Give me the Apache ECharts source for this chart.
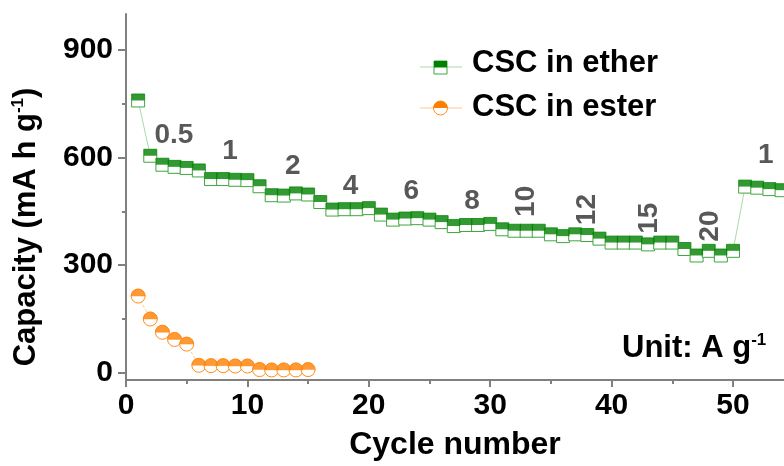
<!DOCTYPE html>
<html>
<head>
<meta charset="utf-8">
<script src="https://cdn.jsdelivr.net/npm/echarts@6/dist/echarts.min.js"></script>
<style>
  html, body { margin: 0; padding: 0; background: #ffffff; }
  #chart { width: 784px; height: 466px; }
</style>
</head>
<body>
<div id="chart"></div>
<script>
// Rate capability: capacity vs cycle number
const cyclesEther = [1,2,3,4,5,6,7,8,9,10,11,12,13,14,15,16,17,18,19,20,21,22,23,24,25,26,27,28,29,30,31,32,33,34,35,36,37,38,39,40,41,42,43,44,45,46,47,48,49,50,51,52,53,54];
const capacityEther = [759,605,580,574,571,564,540,540,538,537,520,495,494,500,497,476,455,456,456,459,441,427,430,431,427,420,409,412,412,415,400,396,396,396,386,381,386,384,374,363,363,363,358,363,363,345,327,340,327,340,519,516,512,509];
const cyclesEster = [1,2,3,4,5,6,7,8,9,10,11,12,13,14,15];
const capacityEster = [214,150,113,93,80,21,20,20,19,19,9,8,8,8,9];

const xTicks = [0,10,20,30,40,50];
const xMinorTicks = [5,15,25,35,45];
const yTicks = [0,300,600,900];
const yMinorTicks = [150,450,750];

// current-density annotations (A g-1)
const rateLabels = ['0.5','1','2','4','6','8','10','12','15','20','1'];
const rateLabelCycle = [3.95,8.56,13.74,18.5,23.5,28.5,33.0,38.0,43.1,48.1,52.7];
const rateLabelCapacity = [663,618,577,519,505,478,478,455,431,409,605];
const rateLabelVertical = [false,false,false,false,false,false,true,true,true,true,false];

const FONT = '"Liberation Sans", Arial, sans-serif';
const AXIS_GRAY = '#808080';
const GREEN = '#008000';
const GREEN_EDGE = '#3fa63f';
const GREEN_LINE = '#a8dca8';
const ORANGE = '#ff8000';
const ORANGE_EDGE = '#ff8c1a';
const ORANGE_LINE = '#ffc891';

const pairs = (xs, ys) => xs.map((x, i) => [x, ys[i]]);
const etherData = pairs(cyclesEther, capacityEther);
const esterData = pairs(cyclesEster, capacityEster);

const chart = echarts.init(document.getElementById('chart'), null, { renderer: 'canvas' });

const baseXAxis = {
  type: 'value', min: 0, max: 54.2, position: 'bottom',
  splitLine: { show: false }
};
const baseYAxis = {
  type: 'value', min: -20, max: 1000, position: 'left',
  splitLine: { show: false }
};

const option = {
  animation: false,
  backgroundColor: '#ffffff',
  grid: { left: 126, right: 0, top: 14, bottom: 82, containLabel: false },
  xAxis: [
    Object.assign({}, baseXAxis, {
      name: 'Cycle number',
      nameLocation: 'middle',
      nameGap: 49,
      nameTextStyle: { fontFamily: FONT, fontWeight: 'bold', fontSize: 32, color: '#000' },
      axisLine: { show: true, onZero: false, lineStyle: { color: AXIS_GRAY, width: 2 } },
      axisTick: { show: true, inside: false, length: 7, customValues: xTicks, lineStyle: { color: AXIS_GRAY, width: 2 } },
      axisLabel: { show: true, customValues: xTicks, margin: 11, fontFamily: FONT, fontWeight: 'bold', fontSize: 30, color: '#000' }
    }),
    Object.assign({}, baseXAxis, {
      axisLine: { show: false, onZero: false },
      axisTick: { show: true, inside: false, length: 4, customValues: xMinorTicks, lineStyle: { color: AXIS_GRAY, width: 2 } },
      axisLabel: { show: false }
    })
  ],
  yAxis: [
    Object.assign({}, baseYAxis, {
      name: 'Capacity (mA h g{sup|-1})',
      nameLocation: 'middle',
      nameGap: 84,
      nameRotate: 90,
      nameTextStyle: {
        fontFamily: FONT, fontWeight: 'bold', fontSize: 31, color: '#000',
        padding: [0, 0, 0, -60],
        rich: { sup: { fontFamily: FONT, fontWeight: 'bold', fontSize: 17, color: '#000', verticalAlign: 'top', padding: [0, 0, 15, 0] } }
      },
      axisLine: { show: true, onZero: false, lineStyle: { color: AXIS_GRAY, width: 2 } },
      axisTick: { show: true, inside: false, length: 8, customValues: yTicks, lineStyle: { color: AXIS_GRAY, width: 2 } },
      axisLabel: { show: true, customValues: yTicks, margin: 13, fontFamily: FONT, fontWeight: 'bold', fontSize: 30, color: '#000' }
    }),
    Object.assign({}, baseYAxis, {
      axisLine: { show: false, onZero: false },
      axisTick: { show: true, inside: false, length: 4, customValues: yMinorTicks, lineStyle: { color: AXIS_GRAY, width: 2 } },
      axisLabel: { show: false }
    })
  ],
  series: [
    {
      name: 'CSC in ester',
      type: 'line',
      data: esterData,
      showAllSymbol: true,
      symbol: 'circle',
      symbolSize: 14,
      lineStyle: { color: ORANGE_LINE, width: 1, type: [3, 2] },
      itemStyle: { color: '#ffffff', borderColor: ORANGE_EDGE, borderWidth: 1 },
      z: 2
    },
    {
      name: 'CSC in ester (fill)',
      type: 'scatter',
      data: esterData,
      symbol: 'path://M0,10A10,10 0 0 1 20,10Z',
      symbolSize: [14, 7],
      symbolOffset: [0, -3.5],
      itemStyle: { color: ORANGE, borderColor: ORANGE_EDGE, borderWidth: 0.5 },
      z: 3
    },
    {
      name: 'CSC in ether',
      type: 'line',
      data: etherData,
      showAllSymbol: true,
      symbol: 'rect',
      symbolSize: 13,
      lineStyle: { color: GREEN_LINE, width: 1 },
      itemStyle: { color: '#ffffff', borderColor: GREEN_EDGE, borderWidth: 1 },
      z: 2
    },
    {
      name: 'CSC in ether (fill)',
      type: 'scatter',
      data: etherData,
      symbol: 'rect',
      symbolSize: [13, 6.5],
      symbolOffset: [0, -3.25],
      itemStyle: { color: GREEN },
      z: 3
    },
    {
      name: 'rates',
      type: 'scatter',
      symbolSize: 0,
      silent: true,
      data: rateLabels.map((t, i) => ({
        name: t,
        value: [rateLabelCycle[i], rateLabelCapacity[i]],
        label: { rotate: rateLabelVertical[i] ? 90 : 0 }
      })),
      label: {
        show: true, position: 'inside', formatter: '{b}',
        fontFamily: FONT, fontWeight: 'bold', fontSize: 28, color: '#2e2e2e'
      },
      z: 4
    }
  ],
  graphic: [
    // legend: CSC in ether
    { type: 'line', shape: { x1: 420, y1: 67, x2: 462, y2: 67 }, style: { stroke: GREEN_LINE, lineWidth: 1 }, z: 10 },
    { type: 'rect', shape: { x: 434, y: 61, width: 13, height: 13 }, style: { fill: '#ffffff', stroke: GREEN_EDGE, lineWidth: 1 }, z: 11 },
    { type: 'rect', shape: { x: 434, y: 61, width: 13, height: 6.5 }, style: { fill: GREEN }, z: 12 },
    { type: 'text', x: 472, y: 63, style: { text: 'CSC in ether', font: 'bold 31px ' + FONT, fill: '#000', verticalAlign: 'middle' }, z: 12 },
    // legend: CSC in ester
    { type: 'line', shape: { x1: 420, y1: 108, x2: 462, y2: 108 }, style: { stroke: ORANGE_LINE, lineWidth: 1 }, z: 10 },
    { type: 'circle', shape: { cx: 440.5, cy: 108, r: 7 }, style: { fill: '#ffffff', stroke: ORANGE_EDGE, lineWidth: 1 }, z: 11 },
    { type: 'sector', shape: { cx: 440.5, cy: 108, r0: 0, r: 7, startAngle: Math.PI, endAngle: 2 * Math.PI, clockwise: true }, style: { fill: ORANGE }, z: 12 },
    { type: 'text', x: 472, y: 107, style: { text: 'CSC in ester', font: 'bold 31px ' + FONT, fill: '#000', verticalAlign: 'middle' }, z: 12 },
    // unit note
    {
      type: 'text', x: 622, y: 348, z: 12,
      style: {
        text: 'Unit: A g{sup|-1}',
        font: 'bold 31px ' + FONT, fill: '#000', verticalAlign: 'middle',
        rich: { sup: { font: 'bold 17px ' + FONT, fill: '#000', verticalAlign: 'top', padding: [0, 0, 16, 0] } }
      }
    }
  ]
};

chart.setOption(option);
</script>
</body>
</html>
